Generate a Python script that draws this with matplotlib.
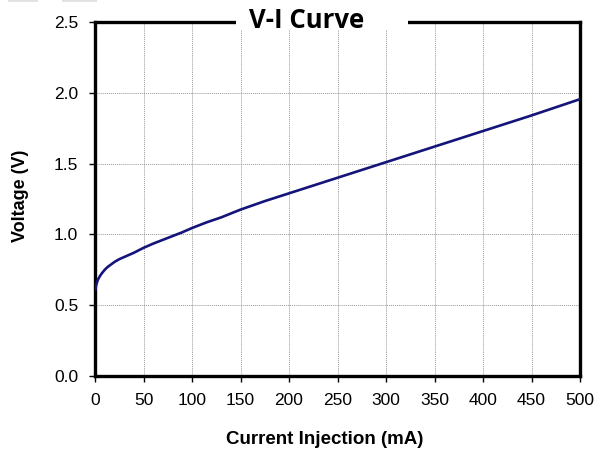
import matplotlib.pyplot as plt
from matplotlib.patches import Rectangle

# values
current = [0.5, 1, 2, 3, 5, 7, 10, 13, 16, 20, 25, 30, 40, 50, 60, 75, 90,
           100, 115, 130, 150, 175, 200, 250, 300, 350, 400, 450, 500]
voltage = [0.61, 0.635, 0.66, 0.68, 0.705, 0.725, 0.75, 0.77, 0.785, 0.805,
           0.825, 0.84, 0.87, 0.905, 0.935, 0.975, 1.015, 1.045, 1.085,
           1.12, 1.175, 1.235, 1.29, 1.40, 1.51, 1.62, 1.73, 1.84, 1.955]

xticks = list(range(0, 501, 50))
yticks = [0.0, 0.5, 1.0, 1.5, 2.0, 2.5]

plt.rcParams['font.family'] = ['Liberation Sans', 'DejaVu Sans']

fig = plt.figure(figsize=(6.04, 4.54), dpi=100)
ax = fig.add_axes([95/604, 1-376/454, 485/604, 354/454])

ax.plot(current, voltage, color='#14147a', lw=1.9, solid_capstyle='round', zorder=3)

ax.set_xlim(0, 500)
ax.set_ylim(0, 2.5)
ax.set_xticks(xticks)
ax.set_yticks(yticks)
ax.set_yticklabels(['%.1f' % v for v in yticks])
ax.tick_params(labelsize=12.5, length=4, width=1, direction='out')
ax.tick_params(axis='x', pad=8)
ax.tick_params(axis='y', pad=8)
ax.grid(True, color='#999999', ls=(0, (1, 1)), lw=0.7)
for s in ax.spines.values():
    s.set_linewidth(2.4)

fig.text(325/604, 1-439/454, 'Current Injection (mA)', ha='center', va='center',
         fontsize=13.5, fontweight='bold')
fig.text(21/604, 1-196/454, 'Voltage (V)', ha='center', va='center',
         rotation=90, fontsize=13, fontweight='bold')

# title sitting on the top border
fig.patches.append(Rectangle((236/604, 1-30/454), 172/604, 16/454,
                             transform=fig.transFigure, facecolor='white',
                             edgecolor='none', zorder=5))
fig.text(307/604, 1-21/454, 'V-I Curve', ha='center', va='center',
         fontsize=18.5, fontweight='bold', family=['Open Sans', 'DejaVu Sans'],
         zorder=10)

# faint grey bits along the top edge
for x0, w in [(8, 30), (62, 35)]:
    fig.patches.append(Rectangle((x0/604, 1-2/454), w/604, 2/454,
                                 transform=fig.transFigure, facecolor='#e2e2e2',
                                 edgecolor='none'))

fig.savefig('out.png', dpi=100)
